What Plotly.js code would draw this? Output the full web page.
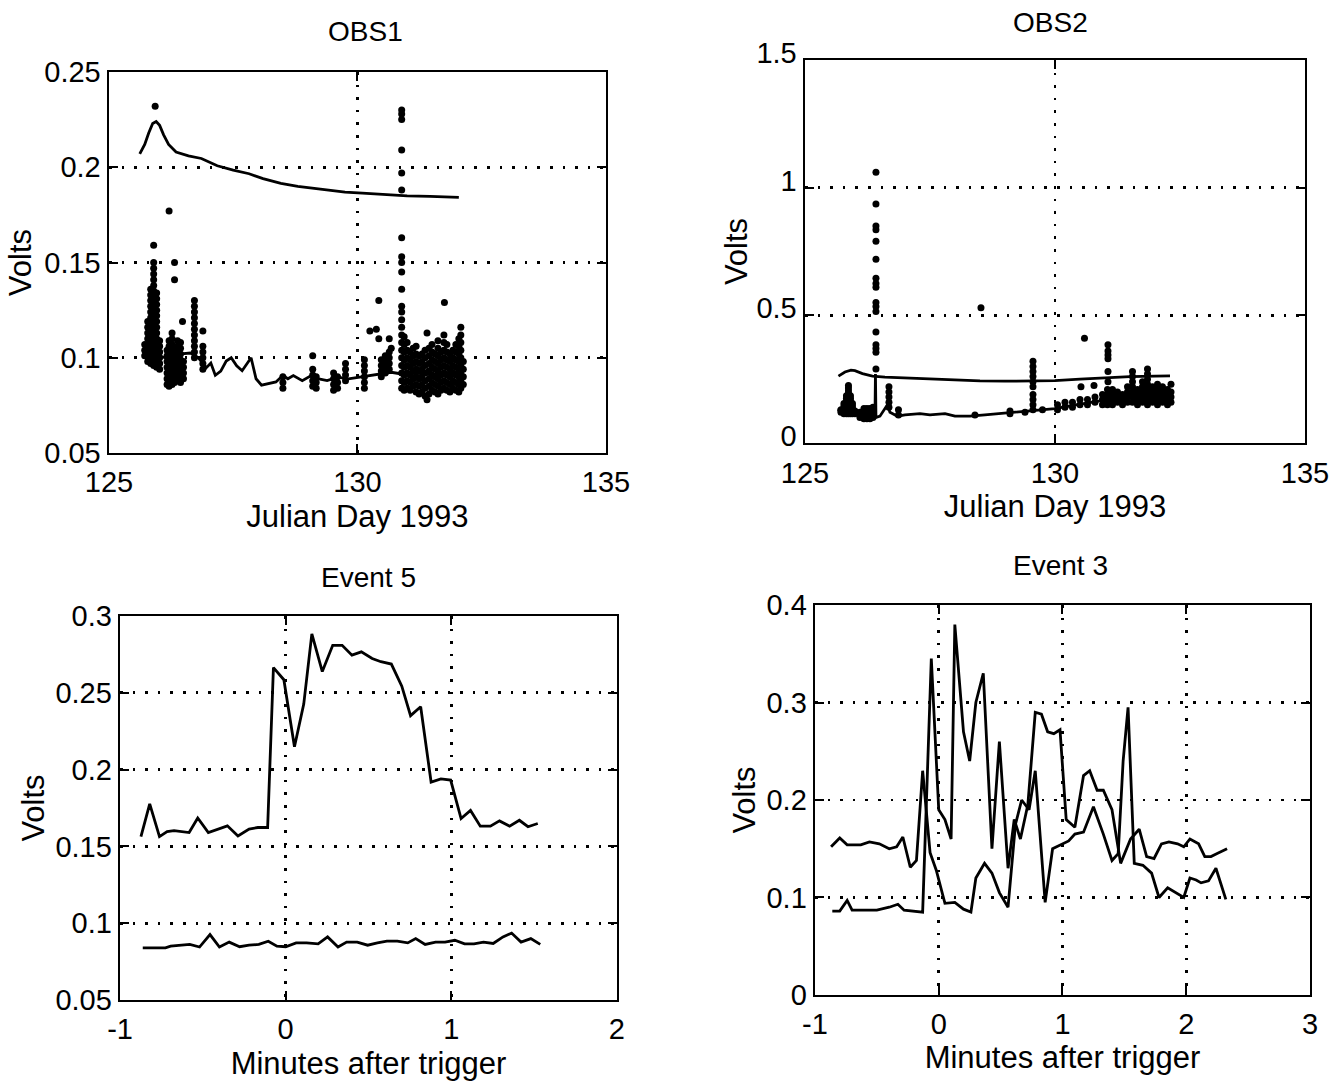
<!DOCTYPE html>
<html><head><meta charset="utf-8">
<script src="https://cdn.plot.ly/plotly-3.0.1.min.js"></script>
<style>html,body{margin:0;padding:0;background:#fff}#chart{width:1340px;height:1081px}</style>
</head><body><div id="chart"></div><script>
// ---------- OBS1 (Julian day 1993) ----------
const obs1UpperDay = [125.62,125.66,125.72,125.8,125.88,125.95,126.02,126.1,126.2,126.35,126.6,126.86,127.0,127.18,127.5,127.82,128.1,128.46,128.8,129.04,129.4,129.75,130.1,130.54,131.0,131.46,131.8,132.04];
const obs1UpperVolt = [0.207,0.209,0.212,0.218,0.223,0.224,0.222,0.217,0.212,0.208,0.206,0.2046,0.203,0.2008,0.1985,0.1966,0.194,0.1915,0.19,0.1893,0.188,0.187,0.1864,0.1856,0.185,0.1847,0.1844,0.1842];
const obs1LowerDay = [125.72,125.8,125.9,126.0,126.14,126.3,126.45,126.64,126.8,126.96,127.05,127.14,127.25,127.36,127.46,127.57,127.68,127.86,127.96,128.07,128.2,128.36,128.5,128.6,128.71,128.89,129.07,129.2,129.39,129.6,129.82,130.04,130.25,130.46,130.68,130.89,131.2,131.5,131.8,132.1];
const obs1LowerVolt = [0.106,0.104,0.102,0.101,0.1,0.101,0.102,0.1025,0.1,0.0948,0.0972,0.0908,0.093,0.0983,0.1,0.0958,0.0932,0.1,0.089,0.0856,0.0862,0.0873,0.0907,0.089,0.0907,0.088,0.0907,0.089,0.088,0.0898,0.0889,0.0898,0.0907,0.0915,0.0924,0.0915,0.092,0.091,0.092,0.093];
// dot columns: one day value, list of sampled volts at that day
const obs1DotDay = [125.72,125.78,125.84,125.90,125.93,125.96,126.02,
  126.17,126.21,126.27,126.32,126.38,126.44,126.48,126.50,
  126.72,126.89,
  128.50,129.10,129.17,129.52,129.60,129.76,130.14,130.25,130.38,130.43,130.48,130.56,130.64,130.68,
  130.89,
  130.94,131.00,131.06,131.12,131.18,131.24,131.30,131.36,131.40,131.44,131.50,131.56,131.62,131.68,131.74,131.75,131.80,131.86,131.92,131.98,132.04,132.08,132.13];
const obs1DotVolt = [
  [0.101,0.104,0.107],
  [0.098,0.101,0.104,0.107,0.110,0.113,0.116,0.119],
  [0.097,0.100,0.103,0.106,0.109,0.112,0.115,0.118,0.121,0.124,0.127,0.130,0.133,0.136],
  [0.096,0.099,0.102,0.105,0.108,0.111,0.114,0.117,0.120,0.123,0.126,0.129,0.132,0.135,0.138,0.141,0.144,0.147,0.150,0.159],
  [0.232],
  [0.095,0.098,0.101,0.104,0.107,0.110,0.113,0.116,0.119,0.122,0.125,0.128,0.131,0.134],
  [0.094,0.097,0.100,0.103,0.106,0.109],
  [0.086,0.089,0.092,0.095,0.098,0.101,0.104],
  [0.085,0.088,0.091,0.094,0.097,0.100,0.103,0.106,0.109,0.177],
  [0.086,0.089,0.092,0.095,0.098,0.101,0.104,0.107,0.110,0.113],
  [0.087,0.090,0.093,0.096,0.099,0.102,0.105,0.141,0.150],
  [0.088,0.091,0.094,0.097,0.100,0.103,0.106,0.109],
  [0.087,0.090,0.093,0.096,0.099,0.102,0.105,0.108],
  [0.119],
  [0.089,0.092,0.095,0.098],
  [0.100,0.103,0.106,0.109,0.112,0.115,0.118,0.121,0.124,0.127,0.130],
  [0.094,0.097,0.100,0.103,0.106,0.114],
  [0.084,0.087,0.090],
  [0.085,0.088,0.091,0.094,0.101],
  [0.084,0.087,0.090],
  [0.083,0.086,0.089,0.092],
  [0.084,0.087,0.090],
  [0.088,0.091,0.094,0.097],
  [0.084,0.087,0.090,0.093,0.096,0.099],
  [0.114],
  [0.115],
  [0.130,0.110],
  [0.090,0.093,0.096,0.099],
  [0.092,0.095,0.098,0.101],
  [0.110,0.094,0.097,0.100,0.103],
  [0.105],
  [0.230,0.228,0.225,0.209,0.197,0.188,0.163,0.153,0.150,0.145,0.136,0.127,0.124,0.084,0.088,0.092,0.096,0.100,0.104,0.108,0.112,0.116,0.120],
  [0.083,0.087,0.091,0.095,0.099,0.103,0.107,0.111],
  [0.084,0.088,0.092,0.096,0.100,0.104,0.108],
  [0.083,0.087,0.091,0.095,0.099,0.103],
  [0.085,0.089,0.093,0.097,0.101,0.105],
  [0.082,0.086,0.090,0.094,0.098,0.102,0.106],
  [0.081,0.085,0.089,0.093,0.097,0.101],
  [0.082,0.086,0.090,0.094,0.098,0.102],
  [0.080,0.084,0.088,0.092,0.096,0.100,0.104],
  [0.078,0.113],
  [0.081,0.085,0.089,0.093,0.097,0.101,0.105],
  [0.083,0.087,0.091,0.095,0.099,0.103,0.107],
  [0.082,0.086,0.090,0.094,0.098,0.102],
  [0.081,0.085,0.089,0.093,0.097,0.101,0.105,0.109],
  [0.083,0.087,0.091,0.095,0.099,0.103],
  [0.084,0.088,0.092,0.096,0.100,0.104,0.108,0.112],
  [0.129],
  [0.083,0.087,0.091,0.095,0.099,0.103,0.107],
  [0.082,0.086,0.090,0.094,0.098,0.102],
  [0.084,0.088,0.092,0.096,0.100,0.104],
  [0.083,0.087,0.091,0.095,0.099,0.103,0.107],
  [0.082,0.086,0.090,0.094,0.098,0.102,0.106,0.110],
  [0.084,0.088,0.092,0.096,0.100,0.104,0.108,0.112,0.116],
  [0.086,0.090,0.094,0.098]
];

// ---------- OBS2 ----------
const obs2UpperDay = [125.67,125.8,125.92,126.0,126.15,126.35,126.6,127.0,127.5,128.0,128.5,129.0,129.5,130.0,130.5,131.0,131.5,132.0,132.3];
const obs2UpperVolt = [0.262,0.278,0.285,0.283,0.272,0.262,0.258,0.255,0.251,0.246,0.243,0.242,0.243,0.244,0.25,0.255,0.26,0.262,0.263];
const obs2LowerDay = [125.65,125.75,125.9,126.0,126.1,126.2,126.35,126.40,126.41,126.42,126.5,126.65,126.7,126.8,126.85,127.0,127.3,127.5,127.8,128.0,128.3,128.6,128.9,129.2,129.5,129.8,130.0,130.3,130.6,130.9,131.2,131.5,131.8,132.1,132.35];
const obs2LowerVolt = [0.13,0.125,0.12,0.115,0.105,0.095,0.1,0.1,0.27,0.1,0.105,0.15,0.12,0.11,0.105,0.11,0.115,0.11,0.115,0.105,0.105,0.11,0.115,0.12,0.125,0.13,0.135,0.145,0.155,0.165,0.175,0.18,0.185,0.19,0.195];
const obs2DotDay = [125.72,125.78,125.83,125.87,125.91,125.95,126.0,126.10,126.18,126.24,126.30,126.36,126.42,126.68,126.87,128.40,129.10,129.40,129.56,129.75,130.05,130.20,130.35,130.50,130.52,130.59,130.65,130.78,130.80,130.95,131.05,131.06,131.15,131.25,131.35,131.45,131.55,131.65,131.75,131.85,131.95,132.05,132.15,132.25,132.32,128.52];
const obs2DotVolt = [
  [0.12,0.13],
  [0.115,0.125,0.135,0.145,0.155],
  [0.115,0.125,0.135,0.145,0.155,0.165,0.175,0.185],
  [0.115,0.125,0.135,0.145,0.155,0.165,0.175,0.185,0.195,0.205,0.215,0.225],
  [0.115,0.125,0.135,0.145,0.155,0.165,0.175,0.185],
  [0.115,0.125,0.135,0.145,0.155],
  [0.115,0.125],
  [0.10,0.12],
  [0.095,0.105,0.115,0.125,0.135],
  [0.095,0.105,0.115,0.125,0.135],
  [0.095,0.105,0.115,0.125,0.135],
  [0.10,0.12,0.14],
  [1.06,0.936,0.85,0.835,0.79,0.72,0.645,0.625,0.61,0.55,0.535,0.515,0.435,0.385,0.37,0.355,0.29],
  [0.14,0.16,0.18,0.20,0.22],
  [0.11,0.13],
  [0.11],
  [0.115,0.125],
  [0.12],
  [0.13,0.15,0.17,0.19,0.22,0.24,0.26,0.28,0.30,0.32],
  [0.13],
  [0.13,0.15],
  [0.14,0.16],
  [0.14,0.16],
  [0.15,0.17],
  [0.22],
  [0.41],
  [0.15,0.17],
  [0.225],
  [0.16,0.18],
  [0.15,0.17,0.19],
  [0.15,0.17,0.19,0.21],
  [0.385,0.36,0.345,0.33,0.28,0.24],
  [0.15,0.17,0.19,0.21],
  [0.16,0.18,0.20],
  [0.15,0.17,0.19],
  [0.16,0.18,0.20,0.22],
  [0.16,0.18,0.20,0.22,0.24,0.26,0.28],
  [0.15,0.17,0.19,0.21],
  [0.16,0.18,0.20,0.22,0.24],
  [0.15,0.17,0.19,0.21,0.23,0.25,0.27,0.29],
  [0.16,0.18,0.20,0.22],
  [0.15,0.17,0.19,0.21,0.23],
  [0.16,0.18,0.20,0.22],
  [0.15,0.17,0.19,0.21],
  [0.16,0.18,0.20,0.23],
  [0.53]
];

// ---------- Event 5 (minutes after trigger) ----------
const ev5UpperMin = [-0.874,-0.821,-0.762,-0.716,-0.674,-0.583,-0.531,-0.467,-0.352,-0.288,-0.221,-0.168,-0.109,-0.074,-0.011,0.053,0.109,0.158,0.221,0.284,0.341,0.4,0.457,0.522,0.575,0.638,0.701,0.754,0.815,0.878,0.937,0.996,1.059,1.116,1.175,1.236,1.291,1.352,1.411,1.463,1.522];
const ev5UpperVolt = [0.1564,0.1777,0.1564,0.1596,0.1602,0.159,0.1685,0.159,0.1634,0.1568,0.1613,0.1623,0.1623,0.2664,0.2585,0.2149,0.2426,0.2883,0.2638,0.2809,0.2809,0.2745,0.2766,0.2723,0.2702,0.2687,0.2543,0.2351,0.2409,0.1919,0.194,0.1932,0.1681,0.1734,0.1632,0.1632,0.1666,0.1632,0.167,0.1628,0.1649];
const ev5LowerMin = [-0.863,-0.726,-0.695,-0.632,-0.579,-0.52,-0.457,-0.4,-0.341,-0.278,-0.221,-0.162,-0.105,-0.053,0,0.063,0.126,0.196,0.253,0.316,0.368,0.432,0.495,0.554,0.611,0.674,0.737,0.785,0.842,0.905,0.962,1.021,1.08,1.137,1.194,1.253,1.312,1.364,1.421,1.48,1.537];
const ev5LowerVolt = [0.084,0.084,0.0851,0.0855,0.0862,0.0845,0.0926,0.0845,0.0877,0.0847,0.0857,0.0862,0.0883,0.0851,0.0847,0.0872,0.0872,0.0866,0.0911,0.0845,0.0877,0.0877,0.0857,0.0872,0.0883,0.0883,0.0872,0.09,0.0862,0.0877,0.0877,0.0889,0.0866,0.0866,0.0877,0.0868,0.0911,0.0936,0.0877,0.09,0.0862];

// ---------- Event 3 ----------
const ev3AMin = [-0.87,-0.8,-0.74,-0.63,-0.56,-0.48,-0.4,-0.34,-0.29,-0.23,-0.18,-0.13,-0.07,-0.02,0.05,0.13,0.2,0.26,0.3,0.37,0.43,0.49,0.56,0.62,0.67,0.73,0.78,0.86,0.92,1.0,1.05,1.1,1.17,1.25,1.33,1.4,1.45,1.49,1.53,1.58,1.65,1.72,1.78,1.85,1.92,1.98,2.03,2.08,2.12,2.18,2.24,2.32];
const ev3AVolt = [0.152,0.161,0.154,0.154,0.157,0.155,0.150,0.152,0.162,0.131,0.138,0.230,0.146,0.128,0.094,0.095,0.088,0.085,0.12,0.135,0.125,0.105,0.09,0.175,0.2,0.19,0.23,0.095,0.15,0.155,0.158,0.165,0.167,0.193,0.165,0.138,0.145,0.24,0.295,0.135,0.133,0.125,0.1,0.11,0.105,0.1,0.12,0.118,0.115,0.117,0.13,0.098];
const ev3BMin = [-0.86,-0.8,-0.74,-0.7,-0.6,-0.5,-0.4,-0.33,-0.28,-0.2,-0.13,-0.06,0.0,0.05,0.1,0.13,0.2,0.25,0.3,0.36,0.43,0.49,0.56,0.61,0.66,0.72,0.78,0.83,0.88,0.93,0.98,1.03,1.1,1.17,1.22,1.28,1.33,1.4,1.47,1.55,1.62,1.68,1.74,1.8,1.86,1.93,1.98,2.03,2.1,2.15,2.2,2.25,2.33];
const ev3BVolt = [0.086,0.086,0.097,0.087,0.087,0.087,0.09,0.093,0.087,0.086,0.085,0.345,0.19,0.18,0.16,0.38,0.27,0.24,0.3,0.33,0.15,0.26,0.13,0.18,0.16,0.195,0.29,0.288,0.27,0.268,0.272,0.18,0.172,0.225,0.23,0.21,0.21,0.19,0.135,0.16,0.17,0.142,0.14,0.155,0.157,0.155,0.152,0.16,0.155,0.142,0.142,0.145,0.15];

// ---------- tick labels ----------
const dayTicks = [125,130,135];
const dayTickText = ['125','130','135'];
const obs1Ticks = [0.05,0.1,0.15,0.2,0.25];
const obs1TickText = ['0.05','0.1','0.15','0.2','0.25'];
const obs2Ticks = [0,0.5,1,1.5];
const obs2TickText = ['0','0.5','1','1.5'];
const ev5XTicks = [-1,0,1,2];
const ev5XTickText = ['-1','0','1','2'];
const ev5YTicks = [0.05,0.1,0.15,0.2,0.25,0.3];
const ev5YTickText = ['0.05','0.1','0.15','0.2','0.25','0.3'];
const ev3XTicks = [-1,0,1,2,3];
const ev3XTickText = ['-1','0','1','2','3'];
const ev3YTicks = [0,0.1,0.2,0.3,0.4];
const ev3YTickText = ['0','0.1','0.2','0.3','0.4'];

// ---------- build traces ----------
function flatten(days, volts){
  const x=[], y=[];
  days.forEach((d,i)=>volts[i].forEach(v=>{x.push(d); y.push(v);}));
  return {x,y};
}
const lineStyle = {color:'#000', width:2.8};
const dotStyle = {color:'#000', size:7};
const d1 = flatten(obs1DotDay, obs1DotVolt);
const d2 = flatten(obs2DotDay, obs2DotVolt);
const traces = [
  {x:obs1UpperDay, y:obs1UpperVolt, mode:'lines', line:lineStyle, xaxis:'x', yaxis:'y'},
  {x:obs1LowerDay, y:obs1LowerVolt, mode:'lines', line:lineStyle, xaxis:'x', yaxis:'y'},
  {x:d1.x, y:d1.y, mode:'markers', marker:dotStyle, xaxis:'x', yaxis:'y'},
  {x:obs2UpperDay, y:obs2UpperVolt, mode:'lines', line:lineStyle, xaxis:'x2', yaxis:'y2'},
  {x:obs2LowerDay, y:obs2LowerVolt, mode:'lines', line:lineStyle, xaxis:'x2', yaxis:'y2'},
  {x:d2.x, y:d2.y, mode:'markers', marker:dotStyle, xaxis:'x2', yaxis:'y2'},
  {x:ev5UpperMin, y:ev5UpperVolt, mode:'lines', line:lineStyle, xaxis:'x3', yaxis:'y3'},
  {x:ev5LowerMin, y:ev5LowerVolt, mode:'lines', line:lineStyle, xaxis:'x3', yaxis:'y3'},
  {x:ev3AMin, y:ev3AVolt, mode:'lines', line:lineStyle, xaxis:'x4', yaxis:'y4'},
  {x:ev3BMin, y:ev3BVolt, mode:'lines', line:lineStyle, xaxis:'x4', yaxis:'y4'}
];

const FONT = 'Liberation Sans, Arial, Helvetica, sans-serif';
function ax(extra){
  return Object.assign({
    showline:true, linecolor:'#000', linewidth:2.4, mirror:'ticks',
    ticks:'inside', ticklen:9, tickwidth:2, tickcolor:'#000',
    showgrid:true, gridcolor:'#000', gridwidth:2.6, griddash:'2.6px,10px',
    zeroline:false, tickmode:'array', tickfont:{family:FONT, size:29, color:'#000'},
    fixedrange:true
  }, extra);
}
const axTitleFont = {family:FONT, size:31, color:'#000'};
const titleFont = {family:FONT, size:28, color:'#000'};
const layout = {
  width:1340, height:1081, showlegend:false,
  margin:{l:0,r:0,t:0,b:0},
  paper_bgcolor:'#fff', plot_bgcolor:'#fff',
  font:{family:FONT, color:'#000'},
  xaxis: ax({domain:[0.0813,0.4522], range:[125,135], tickvals:dayTicks, ticktext:dayTickText, anchor:'y',
    ticklabelstandoff:2, title:{text:'Julian Day 1993', font:axTitleFont, standoff:8}}),
  yaxis: ax({domain:[0.5809,0.9334], range:[0.05,0.25], tickvals:obs1Ticks, ticktext:obs1TickText, anchor:'x',
    title:{text:'Volts', font:axTitleFont, standoff:4}}),
  xaxis2: ax({domain:[0.6007,0.9739], range:[125,135], tickvals:dayTicks, ticktext:dayTickText, anchor:'y2',
    ticklabelstandoff:3, title:{text:'Julian Day 1993', font:axTitleFont, standoff:5}}),
  yaxis2: ax({domain:[0.5902,0.9445], range:[0,1.5], tickvals:obs2Ticks, ticktext:obs2TickText, anchor:'x2',
    ticklabelshift:-7, title:{text:'Volts', font:axTitleFont, standoff:0}}),
  xaxis3: ax({domain:[0.0896,0.4604], range:[-1,2], tickvals:ev5XTicks, ticktext:ev5XTickText, anchor:'y3',
    ticklabelstandoff:2, title:{text:'Minutes after trigger', font:axTitleFont, standoff:8}}),
  yaxis3: ax({domain:[0.0749,0.4302], range:[0.05,0.3], tickvals:ev5YTicks, ticktext:ev5YTickText, anchor:'x3',
    title:{text:'Volts', font:axTitleFont, standoff:2}}),
  xaxis4: ax({domain:[0.6082,0.9776], range:[-1,3], tickvals:ev3XTicks, ticktext:ev3XTickText, anchor:'y4',
    ticklabelstandoff:2, title:{text:'Minutes after trigger', font:axTitleFont, standoff:0}}),
  yaxis4: ax({domain:[0.0796,0.4403], range:[0,0.4], tickvals:ev3YTicks, ticktext:ev3YTickText, anchor:'x4',
    title:{text:'Volts', font:axTitleFont, standoff:2}}),
  annotations:[
    {text:'OBS1', x:365/1340, y:1-32/1081, xref:'paper', yref:'paper', showarrow:false, font:titleFont, xanchor:'center', yanchor:'middle'},
    {text:'OBS2', x:1050/1340, y:1-22/1081, xref:'paper', yref:'paper', showarrow:false, font:titleFont, xanchor:'center', yanchor:'middle'},
    {text:'Event 5', x:368/1340, y:1-577/1081, xref:'paper', yref:'paper', showarrow:false, font:titleFont, xanchor:'center', yanchor:'middle'},
    {text:'Event 3', x:1060/1340, y:1-565/1081, xref:'paper', yref:'paper', showarrow:false, font:titleFont, xanchor:'center', yanchor:'middle'}
  ]
};
Plotly.newPlot('chart', traces, layout, {staticPlot:true, displayModeBar:false});
</script></body></html>
